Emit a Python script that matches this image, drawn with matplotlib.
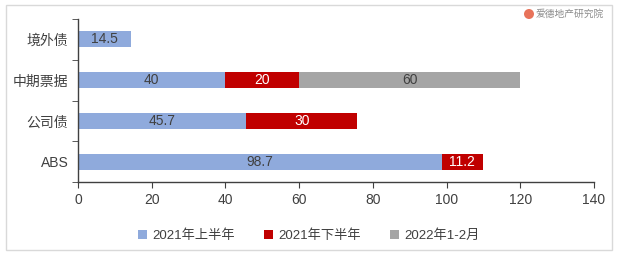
import matplotlib
matplotlib.use("Agg")
import matplotlib.pyplot as plt
from matplotlib.patches import Patch, Rectangle, Ellipse
import numpy as np

plt.rcParams['font.family'] = ['Liberation Sans', 'Noto Sans CJK SC', 'DejaVu Sans']

categories = ['ABS', '公司债', '中期票据', '境外债']
series_names = ['2021年上半年', '2021年下半年', '2022年1-2月']
h1_2021 = [98.7, 45.7, 40, 14.5]
h2_2021 = [11.2, 30, 20, 0]
m2022 = [0, 0, 60, 0]
xticks = [0, 20, 40, 60, 80, 100, 120, 140]

colors = ['#8FAADC', '#C00000', '#A5A5A5']
text_colors = ['#404040', 'white', '#404040']

W, H = 618, 256
fig = plt.figure(figsize=(W/100, H/100), dpi=100)
ax = fig.add_axes([78/W, 1-182/H, (594-78)/W, (182-19)/H])

y = np.arange(len(categories))
left = np.zeros(len(categories))
for vals, c, tc, name in zip([h1_2021, h2_2021, m2022], colors, text_colors, series_names):
    vals = np.array(vals, dtype=float)
    bars = ax.barh(y, vals, left=left, height=0.39, color=c, label=name)
    for b, v, l in zip(bars, vals, left):
        if v > 0:
            ax.text(l + v/2, b.get_y() + b.get_height()/2, f'{v:g}', ha='center', va='center',
                    color=tc, fontsize=10)
    left = left + vals

ax.set_xlim(0, 140)
ax.set_ylim(-0.5, len(categories) - 0.5)
ax.set_xticks(xticks)
ax.set_yticks(y)
ax.set_yticklabels(categories, fontsize=10, color='#404040')
ax.set_yticks(np.arange(-0.5, len(categories)), minor=True)
ax.tick_params(axis='y', which='major', length=0, pad=7)
ax.tick_params(axis='y', which='minor', length=4, direction='out', color='#404040')
ax.tick_params(axis='x', length=4, direction='out', labelsize=10, colors='#404040', pad=4)
for s in ['top', 'right']:
    ax.spines[s].set_visible(False)
for s in ['left', 'bottom']:
    ax.spines[s].set_color('#404040')
    ax.spines[s].set_linewidth(1.0)

handles = [Patch(facecolor=c, edgecolor='none') for c in colors]
fig.legend(handles, series_names, loc='center', bbox_to_anchor=(0.5, 1-236/H), ncol=3,
           frameon=False, fontsize=9.5, handlelength=0.7, handleheight=0.7, handletextpad=0.4,
           columnspacing=2.2, labelcolor='#404040')

# outer frame
fig.patches.append(Rectangle((6/W, 1-250/H), (612-6)/W, (250-5)/H, transform=fig.transFigure,
                             fill=False, edgecolor='#D9D9D9', linewidth=1.0))

# watermark
fig.text(536/W, 1-14/H, '爱德地产研究院', fontsize=7, color='#8C8C8C', ha='left', va='center')
fig.patches.append(Ellipse((529/W, 1-14/H), 10/W, 10/H, transform=fig.transFigure,
                           facecolor='#E8735A', edgecolor='none'))

fig.savefig('out.png', dpi=100)
